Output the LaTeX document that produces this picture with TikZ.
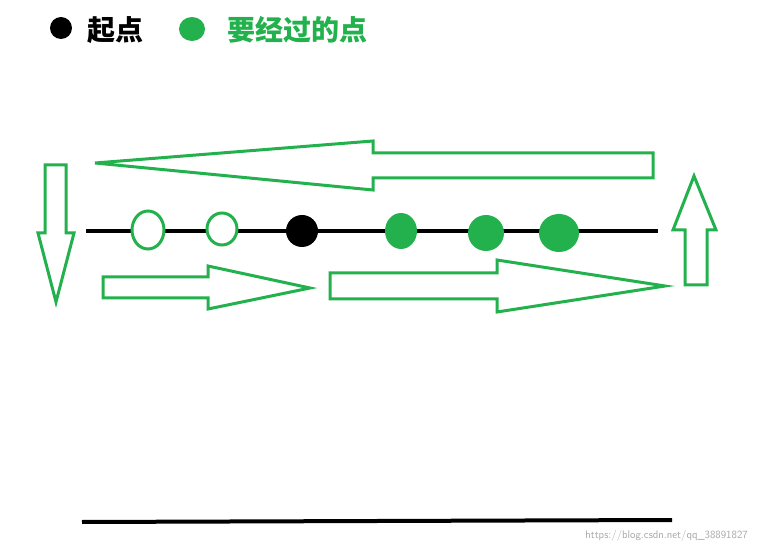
\documentclass[tikz,border=0pt]{standalone}
\usepackage{fontspec}
\newfontfamily\cjk{Noto Sans CJK SC}
\definecolor{pg}{HTML}{22B14C}
\begin{document}
\begin{tikzpicture}[x=1pt,y=-1pt,
  arr/.style={draw=pg,line width=3pt,line join=miter},
  hol/.style={draw=pg,line width=3pt,fill=white},
  lbl/.style={font=\cjk\bfseries\fontsize{28}{32}\selectfont,anchor=west,inner sep=0pt}]
\useasboundingbox (0,0) rectangle (758,553);
% legend
\fill (61,28) circle (11);
\node[lbl] (t1) at (87,30) {起点};
\fill[pg] (192,29) ellipse (13 and 12);
\node[lbl,text=pg] (t2) at (227,30) {要经过的点};
% axis
\draw[line width=4pt] (86,231) -- (658,231);
% points
\draw[hol] (148,230) ellipse (16 and 19);
\draw[hol] (222,229) ellipse (15 and 16);
\fill (302,231) circle (16);
\fill[pg] (401,231) ellipse (16 and 18);
\fill[pg] (486,233) ellipse (18 and 18);
\fill[pg] (559,233) ellipse (20 and 19);
% arrows
\draw[arr] (95,163) -- (373,141) -- (373,153) -- (653,153) -- (653,178) -- (373,178) -- (373,190) -- cycle;
\draw[arr] (45,165) -- (66,165) -- (66,233) -- (74,233) -- (56,302) -- (38,233) -- (45,233) -- cycle;
\draw[arr] (103,277) -- (208,277) -- (208,266) -- (310,288) -- (208,309) -- (208,298) -- (103,298) -- cycle;
\draw[arr] (330,273) -- (497,273) -- (497,260) -- (665,286) -- (497,312) -- (497,299) -- (330,299) -- cycle;
\draw[arr] (685,285) -- (707,285) -- (707,230) -- (716,230) -- (694,176) -- (673,230) -- (685,230) -- cycle;
% bottom line
\draw[line width=4pt] (82,522) -- (672,520);
\node[anchor=east,inner sep=0pt,text=black!35,font=\sffamily\fontsize{11}{13}\selectfont] (wm) at (748,536) {https://blog.csdn.net/qq\_38891827};
\end{tikzpicture}
\end{document}
